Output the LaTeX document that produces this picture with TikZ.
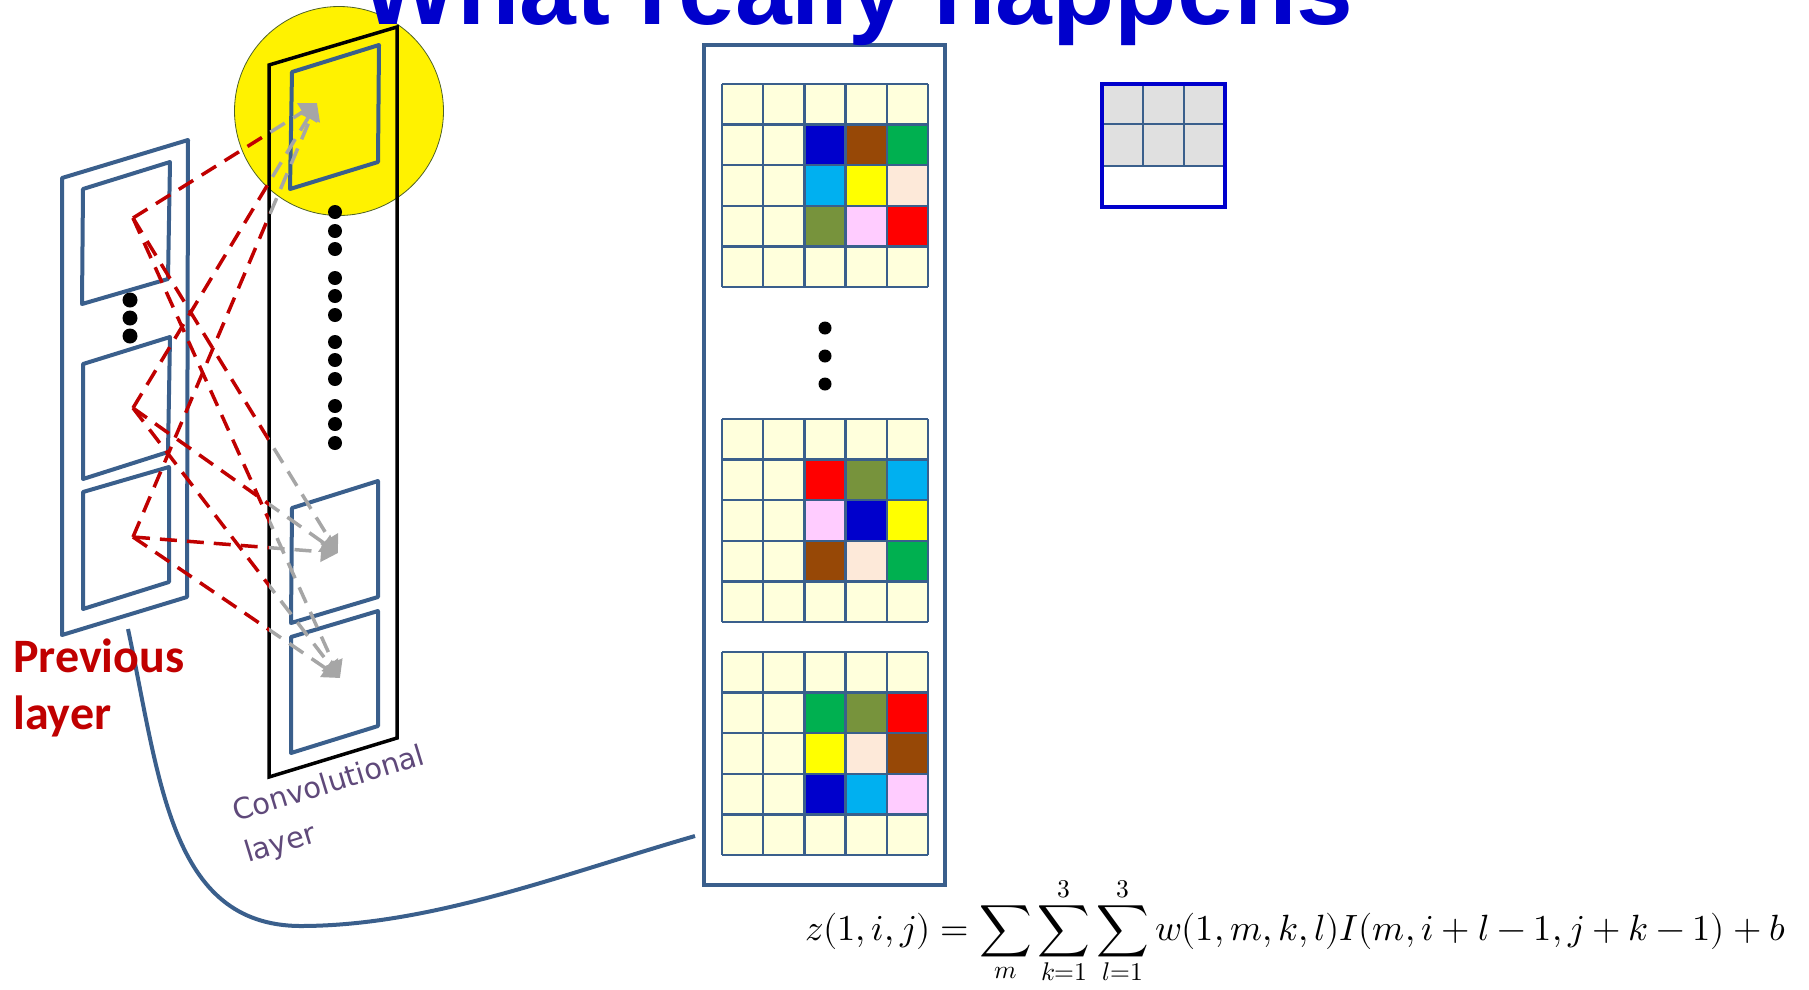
\documentclass[tikz,border=0pt]{standalone}
\usepackage{fontspec}
\usepackage{unicode-math}
\setmainfont{Liberation Sans}
\setmathfont{Latin Modern Math}
\newfontfamily\titlefont{Liberation Sans}
\newfontfamily\calibrifont{Carlito}
\newfontfamily\handfont{DejaVu Sans}
\usetikzlibrary{arrows.meta,calc}
\definecolor{titleblue}{HTML}{0000CC}
\definecolor{mapblue}{HTML}{3A5F8C}
\definecolor{darkred}{HTML}{C00000}
\definecolor{convpurple}{HTML}{5F497A}
\definecolor{arrowgray}{HTML}{A6A6A6}
\definecolor{cellbg}{HTML}{FFFFDC}
\definecolor{filtergray}{HTML}{E0E0E0}
\definecolor{rimgreen}{HTML}{4F6228}
\definecolor{cblue}{HTML}{0000CC}
\definecolor{cbrown}{HTML}{974806}
\definecolor{cgreen}{HTML}{00B050}
\definecolor{ccyan}{HTML}{00B0F0}
\definecolor{cyellow}{HTML}{FFFF00}
\definecolor{cpeach}{HTML}{FDE9D9}
\definecolor{colive}{HTML}{77933C}
\definecolor{cpink}{HTML}{FFCCFF}
\definecolor{cred}{HTML}{FF0000}
\tikzset{
  mapline/.style={draw=mapblue,line width=4pt,line join=round},
  convline/.style={draw=black,line width=3.5pt},
  feed/.style={dash pattern=on 17pt off 10pt,line width=3.5pt},
  redfeed/.style={feed,draw=darkred},
  grayfeed/.style={feed,draw=arrowgray,-{Triangle[width=20pt,length=17pt]}},
  gridline/.style={draw=mapblue,line width=2.5pt},
  blob/.style={fill=black},
  convlabel/.style={anchor=base west,inner sep=0,rotate=17,text=convpurple,font=\handfont\fontsize{29}{33}\selectfont},
  prevlabel/.style={anchor=base west,inner sep=0,text=darkred,font=\calibrifont\bfseries\fontsize{48}{52}\selectfont}
}
% 5x5 feature grid, the 3x3 block at its right holds the colours
\newcommand\featgrid[2]{%
  \fill[cellbg] (722,#1) rectangle +(206,203);
  \foreach \col [count=\n from 0] in {#2}{
    \pgfmathtruncatemacro\gr{\n/3}
    \pgfmathtruncatemacro\gc{mod(\n,3)}
    \fill[\col] ({722+41.2*(\gc+2)},{#1+40.6*(\gr+1)}) rectangle +(41.2,40.6);
  }
  \foreach \k in {0,...,5}{
    \draw[gridline] ({722+41.2*\k},#1) -- ++(0,203);
    \draw[gridline] (722,{#1+40.6*\k}) -- ++(206,0);
  }
}

\begin{document}
\begin{tikzpicture}[x=1pt,y=-1pt]
  \useasboundingbox (0,0) rectangle (1809,989);

  % highlight
  \filldraw[fill=yellow,draw=rimgreen,line width=0.8pt] (339,111) circle (104.5pt);

  % previous layer
  \draw[mapline] (62,178) -- (188,140) -- (187,597) -- (62,635) -- cycle;
  \draw[mapline] (83,189) -- (170,162) -- (168,279) -- (82,304) -- cycle;
  \draw[mapline] (83,364) -- (170,337) -- (168,452) -- (83,479) -- cycle;
  \draw[mapline] (83,492) -- (169,467) -- (169,582) -- (83,609) -- cycle;
  \foreach \y in {300,318,336} \fill[blob] (130,\y) circle (7.5pt);

  % convolutional layer
  \draw[convline] (269,65) -- (397,27) -- (397,738) -- (269,777) -- cycle;
  \draw[mapline] (292,72) -- (379,45) -- (378,162) -- (290,189) -- cycle;
  \draw[mapline] (292,508) -- (378,481) -- (378,597) -- (291,623) -- cycle;
  \draw[mapline] (291,637) -- (378,611) -- (378,726) -- (291,753) -- cycle;
  \foreach \y in {212,231,249,278,296,315,342,360,379,406,424,443}
    \fill[blob] (335,\y) circle (7pt);

  \coordinate (src1) at (133,218);
  \coordinate (src2) at (133,408);
  \coordinate (src3) at (133,537);
  \coordinate (tgt1) at (317,103);
  \coordinate (tgt2) at (338,553);
  \coordinate (tgt3) at (340,678);

  \begin{scope}
    \clip (0,0) rectangle (269,989);
    \foreach \s in {1,2,3}
      \foreach \t in {1,2,3}
        \draw[redfeed] (src\s) -- (tgt\t);
  \end{scope}
  \begin{scope}
    \clip (269,0) rectangle (600,989);
    \foreach \s in {1,2,3}
      \foreach \t in {1,2,3}
        \draw[grayfeed] (src\s) -- (tgt\t);
  \end{scope}

  % stack of outputs
  \draw[draw=mapblue,line width=4pt] (704,45) rectangle (945,885);
  \featgrid{84}{cblue,cbrown,cgreen,ccyan,cyellow,cpeach,colive,cpink,cred}
  \featgrid{419}{cred,colive,ccyan,cpink,cblue,cyellow,cbrown,cpeach,cgreen}
  \featgrid{652}{cgreen,colive,cred,cyellow,cpeach,cbrown,cblue,ccyan,cpink}
  \foreach \y in {328,356,384} \fill[blob] (825,\y) circle (6.5pt);

  % filter
  \fill[filtergray] (1102,84) rectangle (1225,166);
  \foreach \x in {1143,1184} \draw[gridline] (\x,84) -- (\x,166);
  \foreach \y in {124,166} \draw[gridline] (1102,\y) -- (1225,\y);
  \draw[draw=titleblue,line width=4.5pt] (1102,84) rectangle (1225,207);

  % link
  \coordinate (prevfoot) at (128,629);
  \coordinate (stackleft) at (695,836);
  \draw[mapblue,line width=4pt] (prevfoot) .. controls (160,780) and (170,925) .. (300,926)
    .. controls (430,926) and (560,875) .. (stackleft);

  % labels
  \node[prevlabel] (prevtop) at (13,672) {Previous};
  \node[prevlabel] (prevbot) at (13,729) {layer};
  \node[convlabel] (convtop) at (236,822) {Convolutional};
  \node[convlabel] (convbot) at (248,863) {layer};
  \node[anchor=base west,inner sep=0,font=\fontsize{36.5}{40}\selectfont] (eqn) at (805,940)
    {$\displaystyle z(1,i,j)=\sum_{m}\sum_{k=1}^{3}\sum_{l=1}^{3}w(1,m,k,l)I(m,i+l-1,j+k-1)+b$};
  \node[anchor=base west,inner sep=0,text=titleblue,font=\titlefont\bfseries\fontsize{102}{110}\selectfont] (title) at (361,24) {What really happens};
\end{tikzpicture}
\end{document}
